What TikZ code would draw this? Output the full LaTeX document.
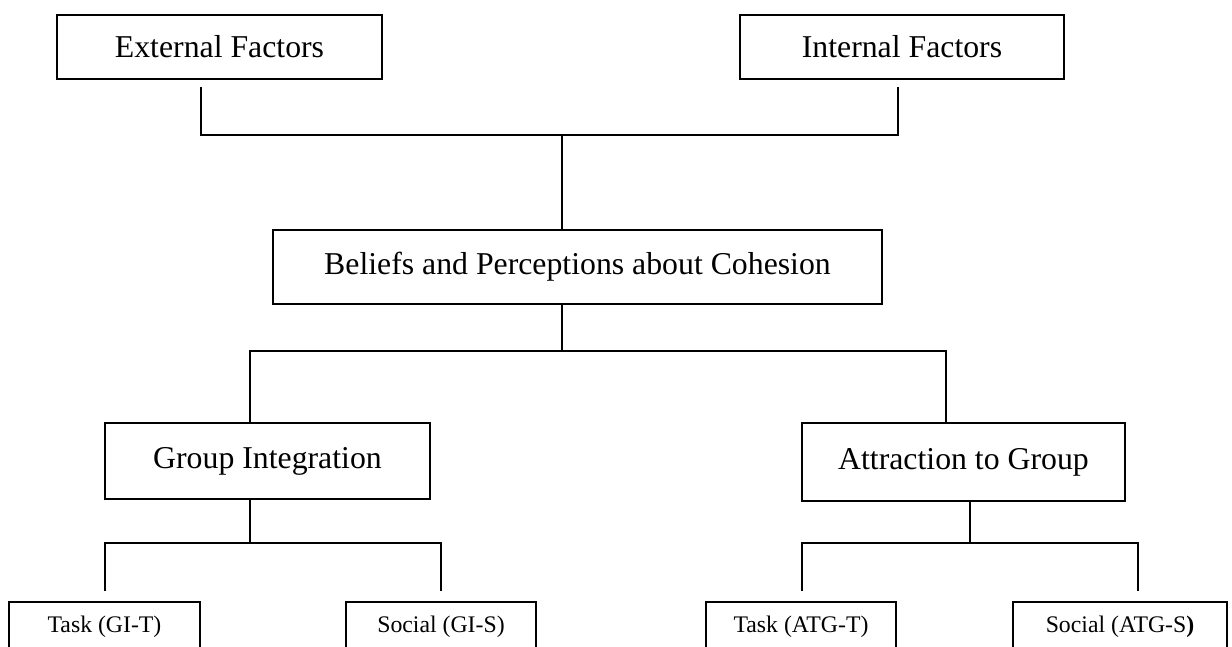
\documentclass[tikz,border=0pt]{standalone}
\usepackage{fontspec}
\setmainfont{Liberation Serif}

\begin{document}
\begin{tikzpicture}[
    x=0.025cm, y=-0.025cm,
    box/.style={rectangle, draw, line width=0.9pt, inner sep=0pt, outer sep=0pt, align=center, font=\fontsize{22.6}{27}\selectfont},
    leaf/.style={box, minimum width=4.75cm, minimum height=1.25cm, font=\fontsize{16.9}{20}\selectfont},
    link/.style={line width=1.2pt},
]
\clip (0,0) rectangle (1232,646);

\node[box, minimum width=8.125cm, minimum height=1.6cm] (ext) at (219.5,47) {External Factors};
\node[box, minimum width=8.1cm, minimum height=1.6cm] (int) at (902,47) {Internal Factors};
\node[box, minimum width=15.225cm, minimum height=1.85cm] (bel) at (577.5,267) {Beliefs and Perceptions about Cohesion};
\node[box, minimum width=8.125cm, minimum height=1.9cm] (gi) at (267.5,461) {Group Integration};
\node[box, minimum width=8.075cm, minimum height=1.95cm] (atg) at (963.5,462) {Attraction to Group};

% Leaves, cut at the bottom edge
\node[leaf, minimum width=4.775cm] (git) at (104.5,627) {Task (GI-T)};
\node[leaf] (gis) at (441,627) {Social (GI-S)};
\node[leaf] (atgt) at (801,627) {Task (ATG-T)};
\node[leaf, minimum width=5.35cm] (atgs) at (1120,627) {Social (ATG-S\textbf{)}};

% Junctions
\coordinate (e1) at (201,87);
\coordinate (i1) at (898,87);
\coordinate (j1) at (562,135);
\coordinate (j2) at (562,351);
\coordinate (xgi) at (250,0);
\coordinate (xatg) at (946,0);
\coordinate (j3) at (250,543);
\coordinate (j4) at (970,543);
\coordinate (t1) at (105,591);
\coordinate (s1) at (441,591);
\coordinate (t2) at (802,591);
\coordinate (s2) at (1138,591);

% Connectors
\draw[link] (e1) |- (j1) -| (i1);
\draw[link] (j1) -- (j1 |- bel.north);
\draw[link] (j2 |- bel.south) -- (j2);
\draw[link] (gi.north -| xgi) |- (j2) -| (atg.north -| xatg);
\draw[link] (gi.south -| j3) -- (j3);
\draw[link] (t1) |- (j3) -| (s1);
\draw[link] (atg.south -| j4) -- (j4);
\draw[link] (t2) |- (j4) -| (s2);

\end{tikzpicture}
\end{document}
